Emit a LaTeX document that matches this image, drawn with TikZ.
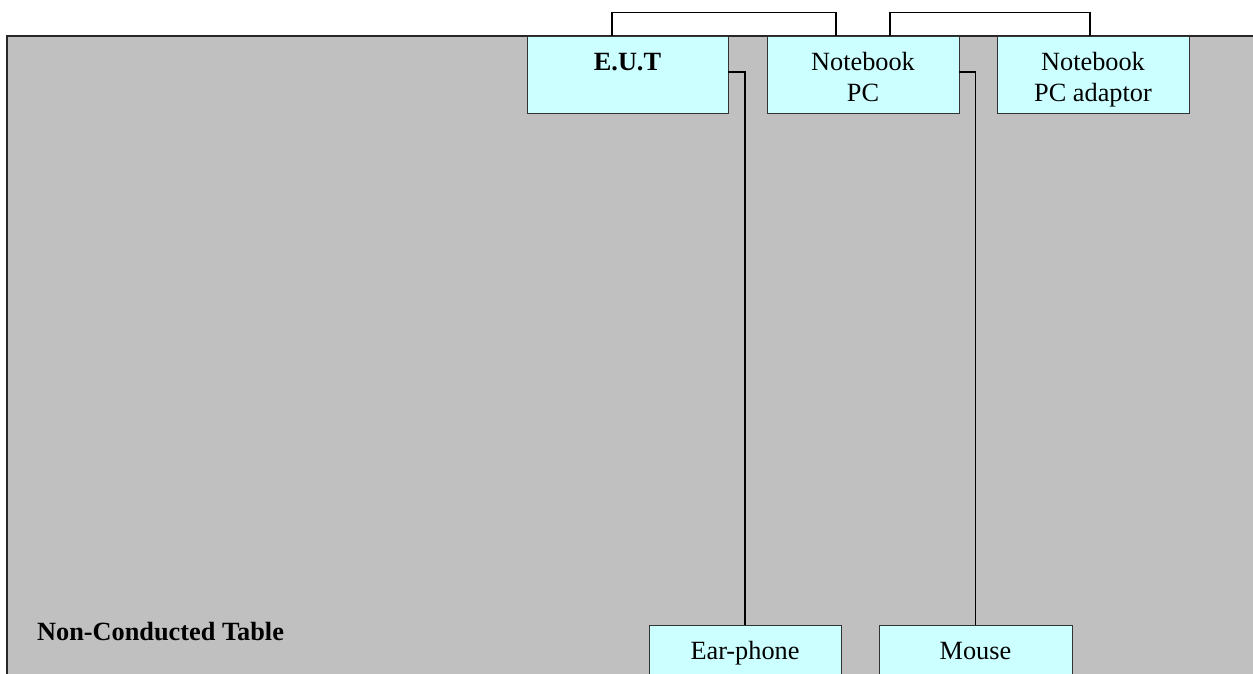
\documentclass[tikz,border=0pt]{standalone}
\usepackage{fontspec}
\setmainfont{Liberation Serif}
\usepackage{tikz}
\usetikzlibrary{calc}

\definecolor{unitfill}{HTML}{CCFFFF}
\definecolor{tablegray}{HTML}{C0C0C0}

\newcommand{\firstline}{\rule{0pt}{32pt}}
\newcommand{\lastline}{\rule[-9.3pt]{0pt}{9.3pt}}

\tikzset{
    unit/.style={rectangle, fill=unitfill, draw=black!80, line width=0.8pt, minimum height=77pt, inner sep=0pt, align=center, font=\fontsize{26.3}{31}\selectfont},
    cable/.style={draw=black, line width=1.3pt}
}

\begin{document}
\begin{tikzpicture}[x=1pt, y=-1pt]
    \useasboundingbox (0,0) rectangle (1253,674);
    
    \fill[tablegray] (7,36) rectangle (1262,690);
    \draw[line width=1.8pt, black!85] (7,690) -- (7,36) -- (1262,36);
    
    \node[unit, minimum width=201pt] (eut) at (627.5,74.5) {\firstline\textbf{E.U.T}\\\lastline};
    
    \node[unit, minimum width=192pt] (nb) at ($(eut) + (235.5, 0)$) {\firstline Notebook\\PC\lastline};
    
    \node[unit, minimum width=192pt] (adp) at ($(nb) + (230, 0)$) {\firstline Notebook\\PC adaptor\lastline};
    
    \node[unit, minimum width=192pt, minimum height=56pt] (ear) at ($(eut) + (117.5, 578.5)$) {\strut Ear-phone};
    
    \node[unit, minimum width=193pt, minimum height=56pt] (mouse) at ($(ear) + (230.5, 0)$) {\strut Mouse};
    
    \node[font=\bfseries\fontsize{26.3}{31}\selectfont, anchor=west, inner sep=0pt] (table) at (37,632) {Non-Conducted Table};
    
    
    
    \draw[cable] ([xshift=-15.5pt]eut.north) -- ++(0,-23) -| ([xshift=-27pt]nb.north);
    \draw[cable] ([xshift=27pt]nb.north) -- ++(0,-23) -| ([xshift=-3pt]adp.north);
    \draw[cable] ([yshift=2.5pt]eut.east) -| (ear.north);
    \draw[cable] ([yshift=2.5pt]nb.east) -| (mouse.north);
    
\end{tikzpicture}
\end{document}
